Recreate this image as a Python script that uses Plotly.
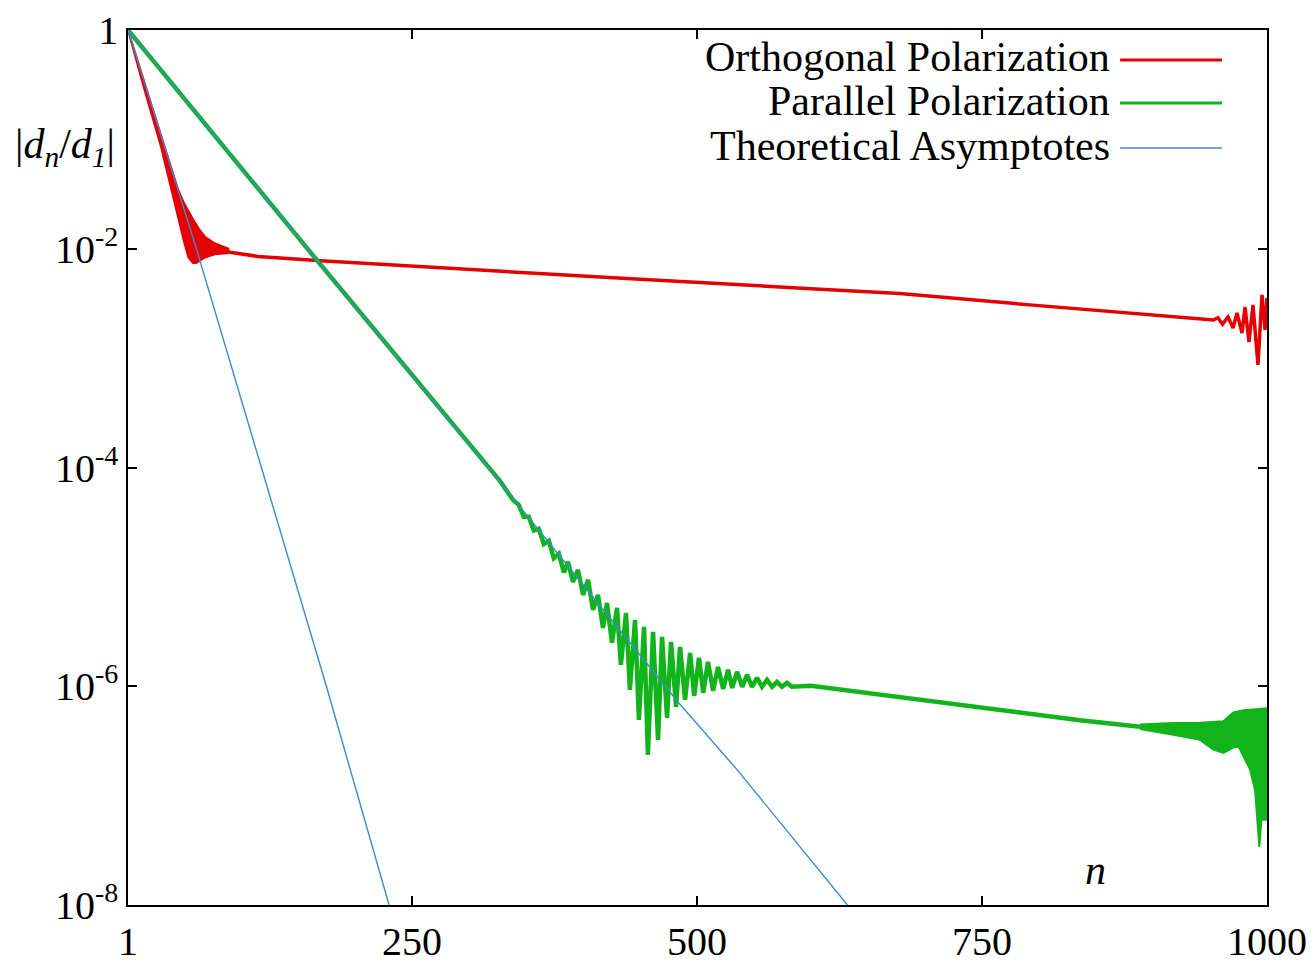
import numpy as np
import plotly.graph_objects as go

# values; curves are stored as log10(|d_n/d_1|)
x_ticks = [1, 250, 500, 750, 1000]
y_ticks = [1, 1e-2, 1e-4, 1e-6, 1e-8]
y_tick_text = ['1', '10<sup>-2</sup>', '10<sup>-4</sup>', '10<sup>-6</sup>', '10<sup>-8</sup>']

series_names = ['Orthogonal Polarization', 'Parallel Polarization', 'Theoretical Asymptotes']

# theoretical asymptotes
asym_fast_n = [1, 61, 118, 175, 230]
asym_fast_log = [0, -2, -4, -6, -8]
asym_slow_n = [1, 160, 327, 483, 535, 632]
asym_slow_log = [0, -2.02, -4.13, -6.14, -6.76, -8.0]

# orthogonal polarization: oscillating head (upper / lower envelope)
orth_head_n = [1, 15, 30, 40, 45, 50, 54, 58, 61, 64, 68.5, 77, 89]
orth_head_hi = [0, -0.47, -0.97, -1.31, -1.46, -1.58, -1.66, -1.73, -1.78, -1.83, -1.89, -1.95, -2.0]
orth_head_lo = [0, -0.53, -1.07, -1.5, -1.71, -1.93, -2.08, -2.13, -2.13, -2.11, -2.08, -2.05, -2.04]

# orthogonal polarization: plateau and end oscillation
orth_n = [89, 115, 170, 300, 450, 600, 678, 800, 900, 932, 953, 957, 961, 965.8, 970.2,
          973.7, 978.1, 980.7, 984.2, 987.7, 992.1, 995.6, 998.3, 1000]
orth_log = [-2.03, -2.07, -2.11, -2.19, -2.28, -2.365, -2.41, -2.52, -2.605, -2.633, -2.651,
            -2.63, -2.69, -2.623, -2.724, -2.587, -2.77, -2.532, -2.852, -2.514, -3.062,
            -2.422, -2.742, -2.45]

# parallel polarization: straight decay, oscillation, plateau
par_n = [1, 160, 327, 338.7, 343.7, 348.1, 352.5, 356.9, 361.3, 365.7, 370.1, 374.5, 378.9,
         383.3, 386.9, 391.3, 395.7, 400.1, 404.5, 408.9, 413.2, 417.6, 421.1, 425.5, 429.9,
         433.3, 437.8, 441.2, 445.7, 449.1, 453.6, 457.0, 461.5, 465.9, 469.4, 473.8, 477.3,
         481.7, 485.2, 489.6, 494.0, 497.6, 501.8, 505.5, 509.7, 514.2, 518.5, 523.0, 527.3,
         530.9, 535.2, 539.7, 544.0, 548.3, 552.7, 557.1, 561.5, 565.9, 570.2, 574.6, 579.0,
         583.4, 600, 700, 836, 888.6]
par_log = [0, -2.02, -4.12, -4.296, -4.342, -4.45, -4.45, -4.575, -4.56, -4.7, -4.67, -4.83,
           -4.79, -4.96, -4.863, -5.046, -4.936, -5.165, -5.027, -5.302, -5.165, -5.466, -5.238,
           -5.603, -5.283, -5.804, -5.329, -6.033, -5.393, -6.307, -5.457, -6.627, -5.503,
           -6.49, -5.548, -6.289, -5.594, -6.188, -5.64, -6.124, -5.695, -6.088, -5.74, -6.06,
           -5.777, -6.042, -5.823, -6.024, -5.85, -6.015, -5.868, -6.005, -5.896, -6.005,
           -5.923, -6.005, -5.941, -6.005, -5.96, -6.005, -5.969, -6.005, -5.995, -6.13,
           -6.31, -6.37]

# parallel polarization: oscillating tail (upper / lower envelope)
par_tail_n = [888.6, 917.9, 941.3, 953, 961.7, 970.5, 974.9, 979.3, 985.1, 989.5, 991.6,
              993.3, 995.1, 998.3, 1000]
par_tail_hi = [-6.35, -6.337, -6.334, -6.325, -6.32, -6.24, -6.23, -6.22, -6.215, -6.21,
               -6.21, -6.205, -6.203, -6.2, -6.2]
par_tail_lo = [-6.39, -6.444, -6.49, -6.58, -6.61, -6.56, -6.55, -6.64, -6.76, -6.95, -7.22,
               -7.47, -7.22, -7.22, -7.22]

RED = '#e60000'
GREEN = '#12b41c'
BLUE = '#3a8ad6'
FONT = 'Liberation Serif'


def pw(v):
    return np.power(10.0, np.asarray(v, dtype=float))


def band(n, hi, lo, color):
    xs = list(n) + list(n)[::-1]
    ys = list(pw(hi)) + list(pw(lo))[::-1]
    return go.Scatter(x=xs, y=ys, mode='lines', fill='toself', fillcolor=color,
                      line=dict(color=color, width=2), hoverinfo='skip', showlegend=False)


fig = go.Figure()

fig.add_trace(band(orth_head_n, orth_head_hi, orth_head_lo, RED))
fig.add_trace(go.Scatter(x=orth_n, y=pw(orth_log), mode='lines', name=series_names[0],
                         line=dict(color=RED, width=3.5), showlegend=False))

fig.add_trace(go.Scatter(x=par_n, y=pw(par_log), mode='lines', name=series_names[1],
                         line=dict(color=GREEN, width=4.5), showlegend=False))
fig.add_trace(band(par_tail_n, par_tail_hi, par_tail_lo, GREEN))

fig.add_trace(go.Scatter(x=asym_fast_n, y=pw(asym_fast_log), mode='lines', name=series_names[2],
                         line=dict(color=BLUE, width=1.4), showlegend=False))
fig.add_trace(go.Scatter(x=asym_slow_n, y=pw(asym_slow_log), mode='lines', name=series_names[2],
                         line=dict(color=BLUE, width=1.4), showlegend=False))

# gnuplot style key: right-aligned text with the sample line on its right
key_y = [0.969, 0.919, 0.868]
key_line_y = [0.9657, 0.9166, 0.8651]
key_colors = [RED, GREEN, BLUE]
key_widths = [3, 3, 1.5]
for name, ty, ly, c, w in zip(series_names, key_y, key_line_y, key_colors, key_widths):
    fig.add_annotation(x=0.8639, y=ty, xref='paper', yref='paper', text=name,
                       showarrow=False, xanchor='right', yanchor='middle',
                       font=dict(family=FONT, size=42, color='black'))
    fig.add_shape(type='line', xref='paper', yref='paper', x0=0.871, x1=0.9605,
                  y0=ly, y1=ly, line=dict(color=c, width=w))

fig.add_annotation(x=-0.0553, y=0.866, xref='paper', yref='paper',
                   text='|<i>d<sub>n</sub></i>/<i>d<sub>1</sub></i>|', showarrow=False,
                   xanchor='center', yanchor='middle',
                   font=dict(family=FONT, size=42, color='black'))
fig.add_annotation(x=0.849, y=0.04, xref='paper', yref='paper', text='<i>n</i>',
                   showarrow=False, xanchor='center', yanchor='middle',
                   font=dict(family=FONT, size=42, color='black'))

axis_style = dict(showline=True, linecolor='black', linewidth=1.5, mirror='allticks',
                  ticks='inside', ticklen=9, tickwidth=1.5, tickcolor='black',
                  showgrid=False, zeroline=False, automargin=False)

fig.update_layout(
    width=1314, height=963,
    margin=dict(l=128, r=47, t=30, b=58),
    paper_bgcolor='white', plot_bgcolor='white',
    font=dict(family=FONT, color='black'),
    xaxis=dict(range=[1, 1000], tickvals=x_ticks, ticktext=[str(v) for v in x_ticks],
               tickfont=dict(family=FONT, size=40), **axis_style),
    yaxis=dict(type='log', range=[-8, 0], tickvals=y_ticks, ticktext=y_tick_text,
               tickfont=dict(family=FONT, size=40), **axis_style),
    showlegend=False,
)

# drop the default 8px body margin so the figure fills the window exactly
fig.write_html('out.html', config={'displayModeBar': False},
               post_script="document.body.style.margin='0';document.body.style.overflow='hidden';")
